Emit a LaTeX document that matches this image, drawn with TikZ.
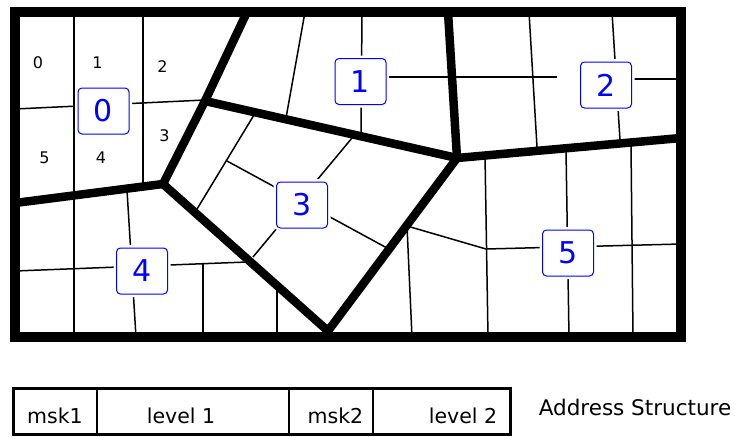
\documentclass[tikz,border=0pt]{standalone}
\usepackage{fontspec}
\setmainfont{DejaVu Sans}
\begin{document}
\begin{tikzpicture}[x=1pt,y=-1pt,
    border/.style={line width=8.5pt},
    gridline/.style={line width=1.5pt},
    zone/.style={draw=blue, line width=1pt, fill=white, rounded corners=4pt, text=blue,
        minimum width=51pt, minimum height=46pt, inner sep=0pt,
        font=\fontsize{30}{30}\selectfont, preaction={draw=white, line width=6pt}},
    cellno/.style={font=\fontsize{16}{16}\selectfont},
    field/.style={font=\fontsize{20.5}{20.5}\selectfont, anchor=base}]
\useasboundingbox (0,0) rectangle (735,436);
% corners of the regions
\coordinate (A) at (247,12);
\coordinate (B) at (205,101);
\coordinate (C) at (163,184);
\coordinate (D) at (15,203);
\coordinate (E) at (448,12);
\coordinate (F) at (457,158);
\coordinate (G) at (681,138);
\coordinate (H) at (328,331);
% thin cell lines
\draw[gridline] (74,12) -- (74,337);
\draw[gridline] (143,12) -- (143,185);
\draw[gridline] (15,109) -- (205,100);
\draw[gridline] (127,190) -- (136,337);
\draw[gridline] (15,271) -- (247,262);
\draw[gridline] (203,263) -- (203,337);
\draw[gridline] (277,285) -- (277,337);
\draw[gridline] (305,12) -- (286,118);
\draw[gridline] (362,12) -- (361,135);
\draw[gridline] (360,77) -- (557,77);
\draw[gridline] (529,12) -- (537,147);
\draw[gridline] (612,12) -- (620,140);
\draw[gridline] (606,79) -- (681,79);
\draw[gridline] (485,155) -- (488,337);
\draw[gridline] (566,150) -- (569,337);
\draw[gridline] (631,145) -- (633,337);
\draw[gridline] (407,226) -- (412,337);
\draw[gridline] (407,226) -- (486,249) -- (681,244);
\draw[gridline] (257,110) -- (194,214);
\draw[gridline] (227,161) -- (387,248);
\draw[gridline] (352,138) -- (253,257);
% region borders
\draw[border] (A) -- (B) -- (C) -- (D);
\draw[border] (B) -- (F);
\draw[border] (E) -- (F) -- (G);
\draw[border] (F) -- (H) -- (C);
\draw[line width=10pt] (15,12) rectangle (681,337);
% region numbers
\node[zone] (r0) at (103.5,111) {0};
\node[zone] (r1) at (360.5,81.5) {1};
\node[zone] (r2) at (606,85) {2};
\node[zone] (r3) at (302,205) {3};
\node[zone] (r4) at (142,271) {4};
\node[zone] (r5) at (568,253) {5};
% cell numbers of region 0
\node[cellno] (c0) at (38,63) {0};
\node[cellno] (c1) at (97.5,63) {1};
\node[cellno] (c2) at (162.5,67) {2};
\node[cellno] (c3) at (164.5,136) {3};
\node[cellno] (c4) at (101,158) {4};
\node[cellno] (c5) at (44.5,158) {5};
% address structure
\draw[line width=3pt] (13,388) rectangle (510,434);
\draw[gridline] (97,388) -- (97,434);
\draw[gridline] (289,388) -- (289,434);
\draw[gridline] (373,388) -- (373,434);
\node[field] (msk1) at (55,423) {msk1};
\node[field] (lev1) at (181,423) {level 1};
\node[field] (msk2) at (335.5,423) {msk2};
\node[field] (lev2) at (463,423) {level 2};
\node[field, font=\fontsize{21.5}{21.5}\selectfont] (addr) at (635,415) {Address Structure};
\end{tikzpicture}
\end{document}
